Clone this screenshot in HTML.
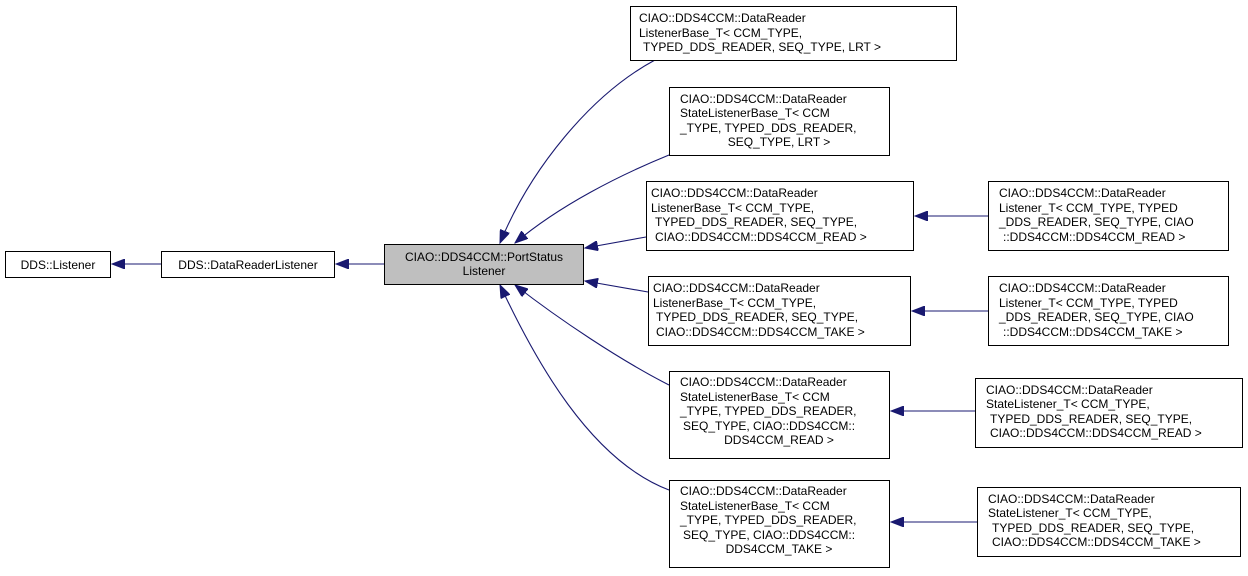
<!DOCTYPE html>
<html><head><meta charset="utf-8"><style>
body{margin:0;background:#fff}
text{font-family:"Liberation Sans",sans-serif;font-size:12px;fill:#000}
</style></head><body>
<svg width="1248" height="571" viewBox="0 0 1248 571" xmlns="http://www.w3.org/2000/svg">
<defs><marker id="a" markerWidth="14" markerHeight="10" refX="13" refY="5" orient="auto" markerUnits="userSpaceOnUse"><path d="M0,0 L13,5 L0,10 Z" fill="#191970" stroke="#191970"/></marker></defs>
<g fill="none" stroke="#191970" stroke-width="1.1">
<path d="M161,264 L112,264" marker-end="url(#a)"/>
<path d="M384,264 L336,264" marker-end="url(#a)"/>
<path d="M655,60 C590,95 530,170 500,243" marker-end="url(#a)"/>
<path d="M669,155 C620,175 560,205 515,243" marker-end="url(#a)"/>
<path d="M646,237 L585,248" marker-end="url(#a)"/>
<path d="M648,292 L585,281" marker-end="url(#a)"/>
<path d="M669,385 C620,360 560,320 515,285" marker-end="url(#a)"/>
<path d="M669,490 C590,460 535,360 500,285" marker-end="url(#a)"/>
<path d="M988,216 L915,216" marker-end="url(#a)"/>
<path d="M988,311 L912,311" marker-end="url(#a)"/>
<path d="M975,411 L891,411" marker-end="url(#a)"/>
<path d="M977,522 L891,522" marker-end="url(#a)"/>
</g>
<g stroke="#000" stroke-width="1" fill="#fff">
<rect x="5.5" y="251.5" width="105" height="26"/>
<rect x="161.5" y="251.5" width="173" height="26"/>
<rect x="384.5" y="244.5" width="199" height="40" fill="#bfbfbf"/>
<rect x="630.5" y="6.5" width="326" height="54"/>
<rect x="669.5" y="87.5" width="220" height="68"/>
<rect x="646.5" y="181.5" width="267" height="69"/>
<rect x="648.5" y="276.5" width="262" height="69"/>
<rect x="669.5" y="371.5" width="220" height="87"/>
<rect x="669.5" y="480.5" width="220" height="87"/>
<rect x="988.5" y="181.5" width="240" height="69"/>
<rect x="988.5" y="276.5" width="240" height="69"/>
<rect x="975.5" y="378.5" width="267" height="69"/>
<rect x="977.5" y="487.5" width="263" height="69"/>
</g>
<text x="58" y="269" text-anchor="middle">DDS::Listener</text>
<text x="248" y="269" text-anchor="middle">DDS::DataReaderListener</text>
<text x="484" y="261" text-anchor="middle">CIAO::DDS4CCM::PortStatus</text>
<text x="484" y="275" text-anchor="middle">Listener</text>
<text x="639" y="22">CIAO::DDS4CCM::DataReader</text>
<text x="639" y="37">ListenerBase_T&lt; CCM_TYPE,</text>
<text x="643" y="51">TYPED_DDS_READER, SEQ_TYPE, LRT &gt;</text>
<text x="680" y="103">CIAO::DDS4CCM::DataReader</text>
<text x="680" y="117">StateListenerBase_T&lt; CCM</text>
<text x="680" y="132">_TYPE, TYPED_DDS_READER,</text>
<text x="779" y="146" text-anchor="middle">SEQ_TYPE, LRT &gt;</text>
<text x="651" y="197">CIAO::DDS4CCM::DataReader</text>
<text x="651" y="212">ListenerBase_T&lt; CCM_TYPE,</text>
<text x="655" y="226">TYPED_DDS_READER, SEQ_TYPE,</text>
<text x="655" y="241">CIAO::DDS4CCM::DDS4CCM_READ &gt;</text>
<text x="653" y="292">CIAO::DDS4CCM::DataReader</text>
<text x="653" y="307">ListenerBase_T&lt; CCM_TYPE,</text>
<text x="656" y="321">TYPED_DDS_READER, SEQ_TYPE,</text>
<text x="656" y="336">CIAO::DDS4CCM::DDS4CCM_TAKE &gt;</text>
<text x="680" y="386">CIAO::DDS4CCM::DataReader</text>
<text x="680" y="401">StateListenerBase_T&lt; CCM</text>
<text x="680" y="415">_TYPE, TYPED_DDS_READER,</text>
<text x="683" y="430">SEQ_TYPE, CIAO::DDS4CCM::</text>
<text x="779" y="444" text-anchor="middle">DDS4CCM_READ &gt;</text>
<text x="680" y="495">CIAO::DDS4CCM::DataReader</text>
<text x="680" y="510">StateListenerBase_T&lt; CCM</text>
<text x="680" y="524">_TYPE, TYPED_DDS_READER,</text>
<text x="683" y="539">SEQ_TYPE, CIAO::DDS4CCM::</text>
<text x="779" y="553" text-anchor="middle">DDS4CCM_TAKE &gt;</text>
<text x="999" y="197">CIAO::DDS4CCM::DataReader</text>
<text x="999" y="212">Listener_T&lt; CCM_TYPE, TYPED</text>
<text x="999" y="226">_DDS_READER, SEQ_TYPE, CIAO</text>
<text x="1003" y="241">::DDS4CCM::DDS4CCM_READ &gt;</text>
<text x="999" y="292">CIAO::DDS4CCM::DataReader</text>
<text x="999" y="307">Listener_T&lt; CCM_TYPE, TYPED</text>
<text x="999" y="321">_DDS_READER, SEQ_TYPE, CIAO</text>
<text x="1003" y="336">::DDS4CCM::DDS4CCM_TAKE &gt;</text>
<text x="986" y="394">CIAO::DDS4CCM::DataReader</text>
<text x="986" y="408">StateListener_T&lt; CCM_TYPE,</text>
<text x="990" y="423">TYPED_DDS_READER, SEQ_TYPE,</text>
<text x="990" y="437">CIAO::DDS4CCM::DDS4CCM_READ &gt;</text>
<text x="988" y="503">CIAO::DDS4CCM::DataReader</text>
<text x="988" y="517">StateListener_T&lt; CCM_TYPE,</text>
<text x="992" y="532">TYPED_DDS_READER, SEQ_TYPE,</text>
<text x="992" y="546">CIAO::DDS4CCM::DDS4CCM_TAKE &gt;</text>
</svg>
</body></html>
